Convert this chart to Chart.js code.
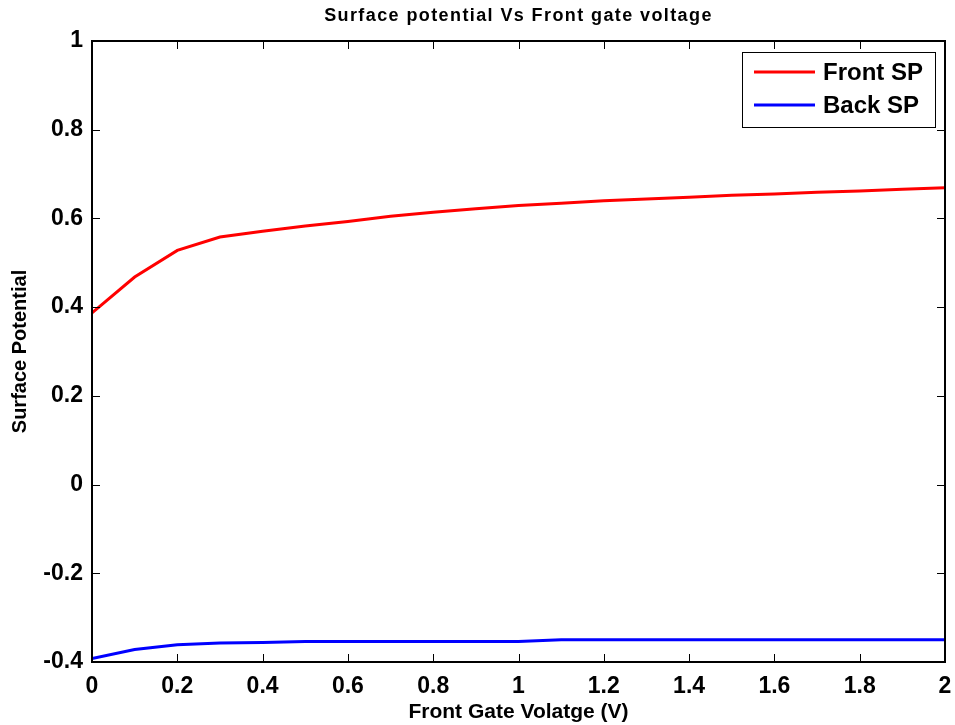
<!DOCTYPE html>
<html>
<head>
<meta charset="utf-8">
<script src="https://cdn.jsdelivr.net/npm/chart.js@4/dist/chart.umd.min.js"></script>
<style>
  html, body { margin: 0; padding: 0; background: #fff; }
  #wrap { width: 955px; height: 725px; }
</style>
</head>
<body>
<div id="wrap"><canvas id="spChart" width="955" height="725"></canvas></div>
<script>
  // gate voltage samples (V)
  const gateVoltage = [0, 0.1, 0.2, 0.3, 0.4, 0.5, 0.6, 0.7, 0.8, 0.9, 1.0,
                       1.1, 1.2, 1.3, 1.4, 1.5, 1.6, 1.7, 1.8, 1.9, 2.0];
  const frontSP = [0.387, 0.468, 0.528, 0.558, 0.571, 0.583, 0.593, 0.605, 0.614, 0.622, 0.629,
                   0.634, 0.640, 0.644, 0.648, 0.652, 0.655, 0.659, 0.662, 0.666, 0.669];
  const backSP = [-0.392, -0.372, -0.361, -0.357, -0.356, -0.354, -0.354, -0.354, -0.354, -0.354, -0.354,
                  -0.350, -0.350, -0.350, -0.350, -0.350, -0.350, -0.350, -0.350, -0.350, -0.350];
  const xTicks = [0, 0.2, 0.4, 0.6, 0.8, 1, 1.2, 1.4, 1.6, 1.8, 2];
  const yTicks = [-0.4, -0.2, 0, 0.2, 0.4, 0.6, 0.8, 1];

  const FONT = "'Liberation Sans', Arial, sans-serif";

  // matlab-ish box, inward ticks, title and legend
  const matlabFrame = {
    id: 'matlabFrame',
    afterDraw(chart) {
      const c = chart.ctx, a = chart.chartArea;
      const xs = chart.scales.x, ys = chart.scales.y;
      c.save();
      c.strokeStyle = '#000';
      c.lineWidth = 1;
      const tl = 8;
      c.beginPath();
      xTicks.forEach(v => {
        const px = Math.round(xs.getPixelForValue(v)) + 0.5;
        c.moveTo(px, a.bottom); c.lineTo(px, a.bottom - tl);
        c.moveTo(px, a.top); c.lineTo(px, a.top + tl);
      });
      yTicks.forEach(v => {
        const py = Math.round(ys.getPixelForValue(v)) + 0.5;
        c.moveTo(a.left, py); c.lineTo(a.left + tl, py);
        c.moveTo(a.right, py); c.lineTo(a.right - tl, py);
      });
      c.stroke();
      c.lineWidth = 2;
      c.strokeRect(a.left, a.top, a.right - a.left, a.bottom - a.top);

      // title
      c.fillStyle = '#000';
      c.font = 'bold 18px ' + FONT;
      c.letterSpacing = '1.4px';
      c.textAlign = 'center';
      c.textBaseline = 'middle';
      c.fillText('Surface potential Vs Front gate voltage', (a.left + a.right) / 2, 16);
      c.letterSpacing = '0px';

      // legend box
      const lx = 742, ly = 52, lw = 193, lh = 75;
      c.fillStyle = '#fff';
      c.fillRect(lx, ly, lw, lh);
      c.lineWidth = 1;
      c.strokeRect(lx + 0.5, ly + 0.5, lw, lh);
      c.font = 'bold 24px ' + FONT;
      c.textAlign = 'left';
      chart.data.datasets.forEach((ds, i) => {
        const yy = ly + 20 + i * 33;
        c.strokeStyle = ds.borderColor;
        c.lineWidth = 3;
        c.beginPath();
        c.moveTo(lx + 12, yy); c.lineTo(lx + 73, yy);
        c.stroke();
        c.fillStyle = '#000';
        c.fillText(ds.label, lx + 81, yy + 1);
      });
      c.restore();
    }
  };

  new Chart(document.getElementById('spChart'), {
    type: 'line',
    data: {
      datasets: [{
        label: 'Front SP',
        data: gateVoltage.map((v, i) => ({ x: v, y: frontSP[i] })),
        borderColor: '#ff0000',
        borderWidth: 3,
        pointRadius: 0,
        tension: 0,
        fill: false
      }, {
        label: 'Back SP',
        data: gateVoltage.map((v, i) => ({ x: v, y: backSP[i] })),
        borderColor: '#0000ff',
        borderWidth: 3,
        pointRadius: 0,
        tension: 0,
        fill: false
      }]
    },
    options: {
      responsive: false,
      animation: false,
      layout: { padding: { top: 41, right: 10, left: 0, bottom: 0 } },
      plugins: {
        legend: { display: false },
        title: { display: false },
        tooltip: { enabled: false }
      },
      scales: {
        x: {
          type: 'linear',
          min: 0, max: 2,
          afterBuildTicks: s => { s.ticks = xTicks.map(v => ({ value: v })); },
          afterFit: s => { s.height = 63; s.paddingLeft = 0; s.paddingRight = 0; },
          grid: { display: false, drawTicks: false },
          border: { display: false },
          ticks: {
            color: '#000',
            padding: 11,
            font: { family: FONT, size: 23, weight: 'bold' },
            maxRotation: 0,
            callback: v => String(+v.toFixed(1))
          },
          title: {
            display: true,
            text: 'Front Gate Volatge (V)',
            color: '#000',
            font: { family: FONT, size: 21, weight: 'bold' },
            padding: { top: 0, bottom: 0 }
          }
        },
        y: {
          min: -0.4, max: 1,
          afterBuildTicks: s => { s.ticks = yTicks.map(v => ({ value: v })); },
          afterFit: s => { s.width = 92; s.paddingTop = 0; s.paddingBottom = 0; },
          grid: { display: false, drawTicks: false },
          border: { display: false },
          ticks: {
            color: '#000',
            padding: 9,
            font: { family: FONT, size: 23, weight: 'bold' },
            callback: v => String(+v.toFixed(1))
          },
          title: {
            display: true,
            text: 'Surface Potential',
            color: '#000',
            font: { family: FONT, size: 20, weight: 'bold' },
            padding: { top: 8, bottom: 0 }
          }
        }
      }
    },
    plugins: [matlabFrame]
  });
</script>
</body>
</html>
